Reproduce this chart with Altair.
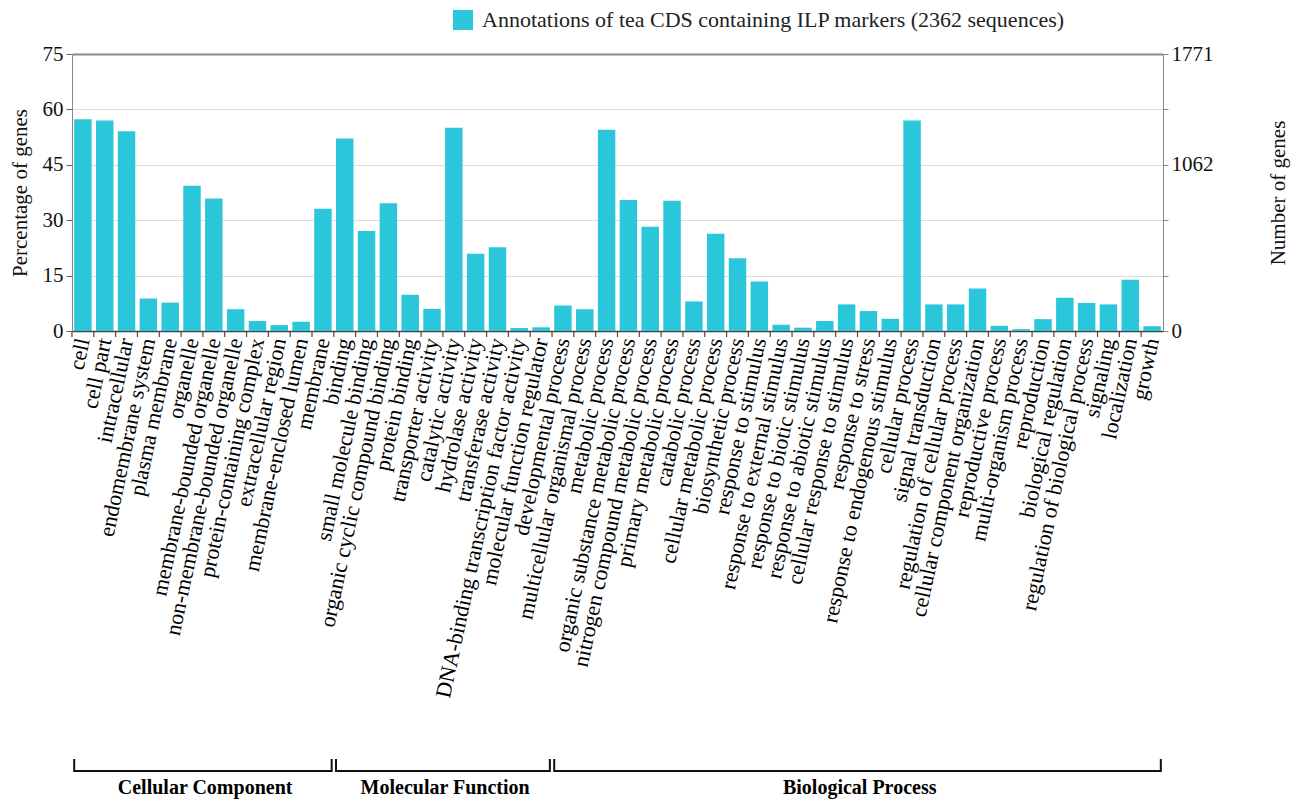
import altair as alt
import pandas as pd

legend_label = "Annotations of tea CDS containing ILP markers (2362 sequences)"

cc_terms = ["cell", "cell part", "intracellular", "endomembrane system", "plasma membrane",
            "organelle", "membrane-bounded organelle", "non-membrane-bounded organelle",
            "protein-containing complex", "extracellular region", "membrane-enclosed lumen", "membrane"]
cc_values = [57.3, 57.0, 54.1, 8.8, 7.7, 39.3, 35.9, 5.9, 2.7, 1.6, 2.5, 33.1]

mf_terms = ["binding", "small molecule binding", "organic cyclic compound binding", "protein binding",
            "transporter activity", "catalytic activity", "hydrolase activity", "transferase activity",
            "DNA-binding transcription factor activity", "molecular function regulator"]
mf_values = [52.1, 27.1, 34.6, 9.8, 6.0, 55.0, 20.9, 22.7, 0.8, 1.0]

bp_terms = ["developmental process", "multicellular organismal process", "metabolic process",
            "organic substance metabolic process", "nitrogen compound metabolic process",
            "primary metabolic process", "catabolic process", "cellular metabolic process",
            "biosynthetic process", "response to stimulus", "response to external stimulus",
            "response to biotic stimulus", "response to abiotic stimulus",
            "cellular response to stimulus", "response to stress", "response to endogenous stimulus",
            "cellular process", "signal transduction", "regulation of cellular process",
            "cellular component organization", "reproductive process", "multi-organism process",
            "reproduction", "biological regulation", "regulation of biological process",
            "signaling", "localization", "growth"]
bp_values = [6.9, 5.9, 54.5, 35.5, 28.2, 35.3, 8.0, 26.3, 19.7, 13.4, 1.7, 0.9, 2.7, 7.2, 5.4,
             3.3, 57.0, 7.2, 7.2, 11.5, 1.4, 0.5, 3.2, 9.0, 7.6, 7.2, 13.9, 1.3]

group_names = ["Cellular Component", "Molecular Function", "Biological Process"]
group_start = ["cell", "binding", "developmental process"]
group_end = ["membrane", "molecular function regulator", "growth"]
group_mid = ["membrane-bounded organelle", "catalytic activity", "response to stress"]

right_tick_labels = {0: "0", 45: "1062", 75: "1771"}

categories = cc_terms + mf_terms + bp_terms
values = cc_values + mf_values + bp_values

df = pd.DataFrame({"term": categories, "pct": values, "series": [legend_label] * len(categories)})
gdf = pd.DataFrame({"group": group_names, "start": group_start, "end": group_end, "mid": group_mid})

W, H = 1091, 277
FONT = "Liberation Serif"
BAR = "#2BC6DA"

xscale = alt.Scale(domain=categories, paddingInner=0.2, paddingOuter=0.1)
xaxis = alt.Axis(title=None, labelAngle=282, labelFont=FONT, labelFontSize=22, labelColor="#000",
                 labelPadding=7, ticks=False, domainColor="#444", domainWidth=1.5,
                 labelLimit=600, labelOverlap=False, grid=False)

bars = alt.Chart(df).mark_bar(color=BAR).encode(
    x=alt.X("term:N", scale=xscale, axis=xaxis),
    y=alt.Y("pct:Q", scale=alt.Scale(domain=[0, 75], nice=False),
            axis=alt.Axis(values=[0, 15, 30, 45, 60, 75], title="Percentage of genes",
                          titleFont=FONT, titleFontSize=21, titleFontWeight="normal",
                          titleColor="#111", titlePadding=12,
                          labelFont=FONT, labelFontSize=21, labelColor="#111", labelPadding=3,
                          tickSize=6, tickColor="#666", domainColor="#888",
                          grid=True,
                          gridColor={"condition": {"test": "datum.value === 75", "value": "#888"}, "value": "#dcdcdc"},
                          gridWidth={"condition": {"test": "datum.value === 75", "value": 2}, "value": 1})),
    color=alt.Color("series:N", scale=alt.Scale(range=[BAR]),
                    legend=alt.Legend(orient="none", legendX=380, legendY=-45, title=None,
                                      symbolType="square", symbolSize=400, symbolStrokeWidth=0,
                                      labelFont=FONT, labelFontSize=22, labelColor="#222",
                                      labelOffset=8, labelLimit=900))
)

right_expr = " : ".join(
    [f"datum.value == {k} ? '{v}'" for k, v in right_tick_labels.items()]) + " : ''"

right = alt.Chart(df).mark_bar(opacity=0).encode(
    x=alt.X("term:N", scale=xscale, axis=xaxis),
    y=alt.Y("pct:Q", scale=alt.Scale(domain=[0, 75], nice=False),
            axis=alt.Axis(orient="right", values=[0, 15, 30, 45, 60, 75], labelExpr=right_expr,
                          title="Number of genes", titleAngle=270, titleBaseline="bottom",
                          titleFont=FONT, titleFontSize=21, titleFontWeight="normal",
                          titleColor="#111", titlePadding=75,
                          labelFont=FONT, labelFontSize=21, labelColor="#111", labelPadding=3,
                          tickSize=5, tickColor="#888", domainColor="#888", grid=False))
)

ticks = alt.Chart(df).mark_rule(color="#5a4538", xOffset=-2.2, strokeWidth=1.2).encode(
    x=alt.X("term:N", scale=xscale, bandPosition=0, axis=xaxis),
    y=alt.value(H), y2=alt.value(H + 6)
)

BY = 717
bracket_h = alt.Chart(gdf).mark_rule(color="#111", strokeWidth=2).encode(
    x=alt.X("start:N", scale=xscale, bandPosition=0, axis=xaxis),
    x2=alt.X2("end:N", bandPosition=1),
    y=alt.value(BY)
)
bracket_l = alt.Chart(gdf).mark_rule(color="#111", strokeWidth=2).encode(
    x=alt.X("start:N", scale=xscale, bandPosition=0, axis=xaxis),
    y=alt.value(BY - 12), y2=alt.value(BY + 1)
)
bracket_r = alt.Chart(gdf).mark_rule(color="#111", strokeWidth=2).encode(
    x=alt.X("end:N", scale=xscale, bandPosition=1, axis=xaxis),
    y=alt.value(BY - 12), y2=alt.value(BY + 1)
)
group_text = alt.Chart(gdf).mark_text(font=FONT, fontSize=20, fontWeight="bold", color="#000",
                                      baseline="middle").encode(
    x=alt.X("mid:N", scale=xscale, bandPosition=0, axis=xaxis),
    y=alt.value(BY + 17),
    text="group:N"
)

chart = alt.layer(bars, right, ticks, bracket_h, bracket_l, bracket_r, group_text).resolve_scale(
    y="independent"
).properties(
    width=W, height=H,
    autosize=alt.AutoSizeParams(type="none"),
    padding={"left": 64, "top": 46, "right": 130, "bottom": 469},
    background="white"
).configure_view(stroke=None)

chart.save("out.html", embed_options={"renderer": "svg", "actions": False})
